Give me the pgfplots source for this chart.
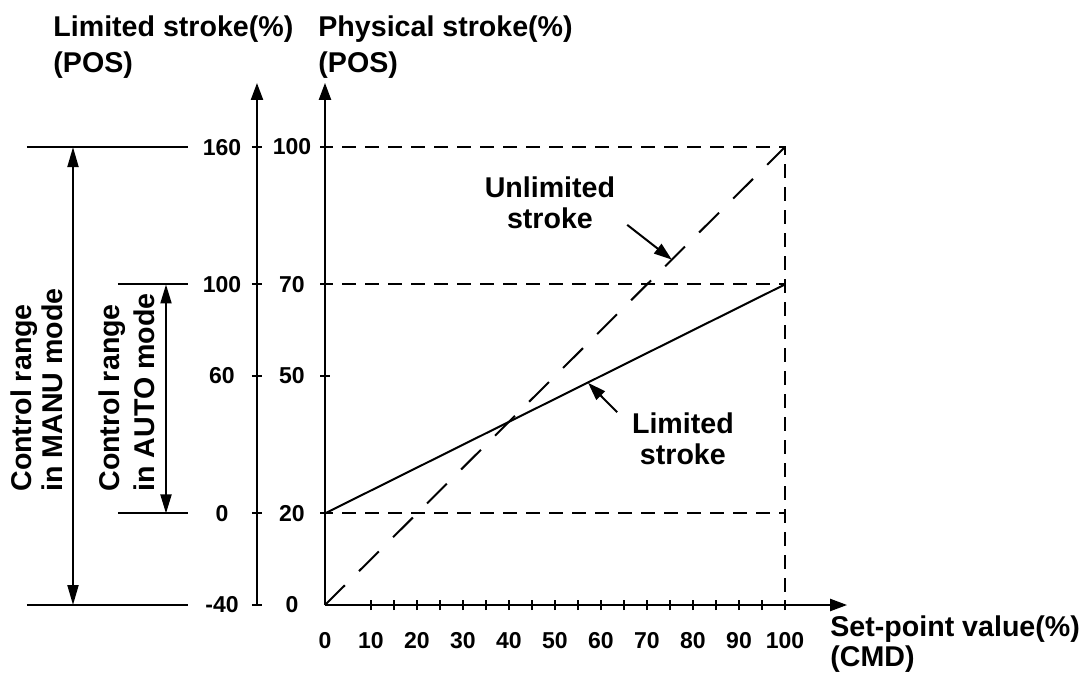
\documentclass[border=0pt]{standalone}
\usepackage{fontspec}
\setmainfont{Liberation Sans}
\usepackage{pgfplots}
\pgfplotsset{compat=1.18}
\usetikzlibrary{arrows.meta}

\begin{document}
\begin{tikzpicture}[font=\bfseries\fontsize{14.3}{15.5}\selectfont]
\useasboundingbox (0,0) rectangle (542pt,338.5pt);
\pgfplotsset{
  common/.style={
    scale only axis, clip=false,
    tick align=outside,
    major tick length=5pt, minor tick length=5pt,
    tick style={black, line width=1pt},
    ticklabel style={font=\bfseries\fontsize{11.5}{13}\selectfont},
  }
}
% ---------- left axis: limited stroke ----------
\begin{axis}[common, at={(128.5pt,36pt)}, anchor=south west,
  width=50pt, height=261pt, xmin=0, xmax=100, ymin=-40, ymax=188,
  disabledatascaling,
  axis x line=none, axis y line=left,
  axis line style={line width=1.1pt, -{Triangle[length=8.5pt,width=6pt]}},
  ytick={-40,0,60,100,160}, yticklabels={-40,0,60,100,160},
  yticklabel style={anchor=center, xshift=-15pt},
]
\draw[line width=1pt] (axis cs:-230,160) -- (axis cs:-69,160);
\draw[line width=1pt] (axis cs:-230,-40) -- (axis cs:-69,-40);
\draw[line width=1pt] (axis cs:-139,100) -- (axis cs:-69,100);
\draw[line width=1pt] (axis cs:-139,0) -- (axis cs:-69,0);
\draw[line width=1pt, {Triangle[length=10pt,width=5.5pt]}-{Triangle[length=10pt,width=5.5pt]}] (axis cs:-184,160) -- (axis cs:-184,-40);
\draw[line width=1pt, {Triangle[length=9.5pt,width=5.5pt]}-{Triangle[length=9.5pt,width=5.5pt]}] (axis cs:-91,100) -- (axis cs:-91,0);
\end{axis}
% ---------- main axis: physical stroke ----------
\begin{axis}[common, at={(162.5pt,36pt)}, anchor=south west,
  width=261.05pt, height=261.06pt, xmin=0, xmax=113.5, ymin=0, ymax=114,
  axis lines=left,
  axis line style={line width=1.1pt, -{Triangle[length=8.5pt,width=6pt]}},
  xtick={10,20,...,100}, xticklabels={10,20,30,40,50,60,70,80,90,100},
  minor xtick={15,25,...,95},
  ytick={20,50,70,100}, yticklabels={20,50,70,100},
  extra x ticks={0}, extra x tick labels={0},
  extra y ticks={0}, extra y tick labels={0},
  extra tick style={tick style={draw=none}},
  xticklabel style={yshift=-7.5pt},
  yticklabel style={anchor=center, xshift=-14pt},
]
% reference (dashed) lines
\addplot[black, line width=1pt, dash pattern=on 7pt off 4.5pt, dash phase=3pt] coordinates {(0,100) (100,100) (100,0)};
\addplot[black, line width=1pt, dash pattern=on 7pt off 4.5pt, dash phase=3pt] coordinates {(0,70) (100,70)};
\addplot[black, line width=1pt, dash pattern=on 7pt off 4.5pt, dash phase=3pt] coordinates {(0,20) (100,20)};
% unlimited stroke
\addplot[black, line width=1pt, dash pattern=on 14pt off 10pt] coordinates {(0,0) (100,100)};
% limited stroke
\addplot[black, line width=1pt] coordinates {(0,20) (100,70)};
% annotations
\draw[line width=1pt, -{Triangle[length=9pt,width=6pt]}] (axis cs:65.7,83) -- (axis cs:75.4,75.4);
\draw[line width=1pt, -{Triangle[length=9pt,width=6pt]}] (axis cs:63.5,42.1) -- (axis cs:57.2,48.5);
\node[align=center, inner sep=0pt] at (axis cs:48.9,87.8) {Unlimited\\stroke};
\node[align=center, inner sep=0pt] at (axis cs:77.8,36.4) {Limited\\stroke};
\end{axis}
% ---------- titles ----------
\node[anchor=base west, inner sep=0pt] at (26.5pt,320pt) {Limited stroke(\%)};
\node[anchor=base west, inner sep=0pt] at (26.5pt,302.5pt) {(POS)};
\node[anchor=base west, inner sep=0pt] at (159pt,320pt) {Physical stroke(\%)};
\node[anchor=base west, inner sep=0pt] at (159pt,302.5pt) {(POS)};
\node[anchor=base west, inner sep=0pt] at (415pt,20.5pt) {Set-point value(\%)};
\node[anchor=base west, inner sep=0pt] at (415pt,5.5pt) {(CMD)};
% rotated range labels
\node[rotate=90, anchor=base west, inner sep=0pt] at (16pt,92.5pt) {Control range};
\node[rotate=90, anchor=base west, inner sep=0pt] at (31.5pt,92.5pt) {in MANU mode};
\node[rotate=90, anchor=base west, inner sep=0pt] at (60pt,92.5pt) {Control range};
\node[rotate=90, anchor=base west, inner sep=0pt] at (77.5pt,92.5pt) {in AUTO mode};
\end{tikzpicture}
\end{document}
